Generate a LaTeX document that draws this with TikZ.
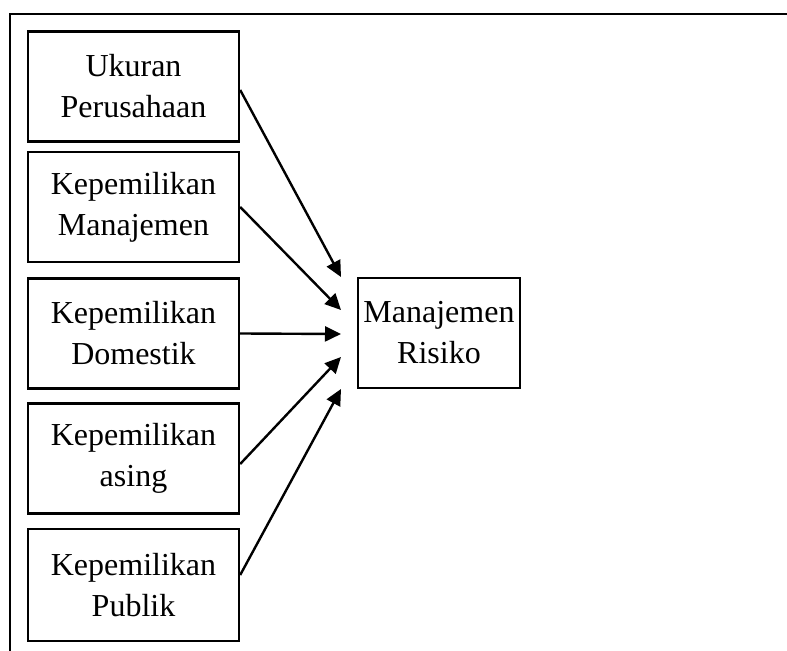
\documentclass[tikz,border=0pt]{standalone}
\usepackage{fontspec}
\setmainfont{Liberation Serif}
\usetikzlibrary{arrows.meta}
\pgfdeclarelayer{nodelayer}
\pgfdeclarelayer{edgelayer}
\pgfsetlayers{edgelayer,nodelayer,main}
\tikzstyle{box}=[fill=white, draw=black, line width=1.2pt, shape=rectangle, inner sep=0pt, align=center, font=\fontsize{16}{20.5}\selectfont, minimum width=105.5pt, minimum height=55pt]
\tikzstyle{frame}=[line width=1.2pt]
\tikzstyle{directed edge}=[-{Triangle[length=8pt,width=7.5pt]}, line width=1.2pt]

\begin{document}
\begin{tikzpicture}[x=0.5pt, y=-0.5pt]
	\useasboundingbox (0,0) rectangle (787,651);
	\draw [style=frame] (787,14) -- (10,14) -- (10,651);
	\begin{pgfonlayer}{nodelayer}
		\node [style=box] (0) at (133.5, 86.5) {Ukuran\\Perusahaan};
		\node [style=box] (1) at (133.5, 207) {Kepemilikan\\Manajemen};
		\node [style=box] (2) at (133.5, 333.5) {Kepemilikan\\Domestik};
		\node [style=box] (3) at (133.5, 458.5) {Kepemilikan\\asing};
		\node [style=box, minimum height=56pt] (4) at (133.5, 585) {Kepemilikan\\Publik};
		\node [style=box, minimum width=81pt] (5) at (439, 333) {Manajemen\\Risiko};
		\coordinate (t0) at (341, 277);
		\coordinate (t1) at (341, 310);
		\coordinate (t2) at (341, 334);
		\coordinate (t3) at (341, 357);
		\coordinate (t4) at (341, 389);
	\end{pgfonlayer}
	\begin{pgfonlayer}{edgelayer}
		\draw [style=directed edge] ([yshift=-1.75pt]0.east) to (t0);
		\draw [style=directed edge] (1.east) to (t1);
		\draw [style=directed edge] (2.east) to (t2);
		\draw [style=directed edge] ([yshift=-2.75pt]3.east) to (t3);
		\draw [style=directed edge] ([yshift=5pt]4.east) to (t4);
	\end{pgfonlayer}
\end{tikzpicture}
\end{document}
